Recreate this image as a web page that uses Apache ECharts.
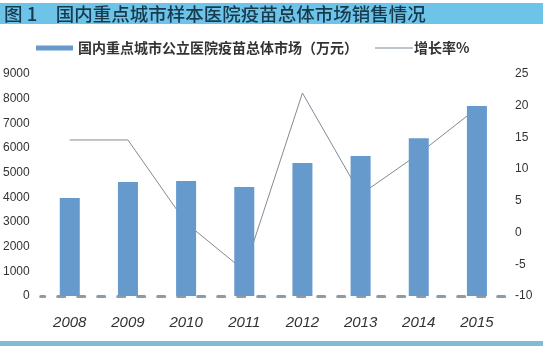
<!DOCTYPE html>
<html>
<head>
<meta charset="utf-8">
<script src="https://cdn.jsdelivr.net/npm/echarts@6/dist/echarts.min.js"></script>
<style>
html,body{margin:0;padding:0;background:#fff;}
#chart{width:550px;height:357px;}
</style>
</head>
<body>
<div id="chart"></div>
<script>
const categories = ['2008', '2009', '2010', '2011', '2012', '2013', '2014', '2015'];
const marketValues = [3970, 4620, 4660, 4420, 5390, 5680, 6400, 7700];
const growthRates = [14.6, 14.6, 1.5, -6.0, 22.0, 6.0, 12.4, 19.6];
const barName = '国内重点城市公立医院疫苗总体市场（万元）';
const lineName = '增长率%';
const titleText = '图 1　国内重点城市样本医院疫苗总体市场销售情况';

const chart = echarts.init(document.getElementById('chart'));
const narrow = "'Liberation Sans Narrow', 'Liberation Sans', Arial, sans-serif";
const cjk = "'Noto Sans CJK SC', sans-serif";

chart.setOption({
  backgroundColor: '#ffffff',
  animation: false,
  graphic: [
    { type: 'rect', left: 0, top: 3, shape: { width: 543, height: 21 }, style: { fill: '#6dc3e8' }, z: -1 },
    { type: 'rect', left: 0, top: 341, shape: { width: 543, height: 5 }, style: { fill: '#7dbcd3' }, z: -1 }
  ],
  title: {
    text: titleText,
    left: 4,
    top: 3,
    padding: 0,
    textStyle: { fontFamily: cjk, fontSize: 18.5, fontWeight: 500, color: '#173a4c', lineHeight: 21 }
  },
  legend: [
    {
      data: [{ name: barName, icon: 'rect' }],
      left: 36, top: 41, padding: 0,
      itemWidth: 37, itemHeight: 5,
      textStyle: { fontFamily: cjk, fontSize: 14, fontWeight: 'bold', color: '#333' }
    },
    {
      data: [{ name: lineName, icon: 'path://M0,0 L38,0 L38,1 L0,1 Z' }],
      left: 375, top: 41, padding: 0,
      itemWidth: 38, itemHeight: 1,
      textStyle: { fontFamily: cjk, fontSize: 14, fontWeight: 'bold', color: '#333', padding: [0, 0, 0, -4] }
    }
  ],
  grid: { left: 38, right: 44, top: 74, bottom: 61, containLabel: false },
  xAxis: {
    type: 'category',
    data: categories,
    axisLine: { lineStyle: { color: '#8c9aa5', width: 3, type: [7, 13], dashOffset: 3 } },
    axisTick: { show: false },
    axisLabel: { fontFamily: narrow, fontStyle: 'italic', fontSize: 15, color: '#333', margin: 19 }
  },
  yAxis: [
    {
      type: 'value', min: 0, max: 9000, interval: 1000,
      axisLine: { show: false }, axisTick: { show: false }, splitLine: { show: false },
      axisLabel: { fontFamily: narrow, fontSize: 12, color: '#333', margin: 11, formatter: v => String(v) }
    },
    {
      type: 'value', min: -10, max: 25, interval: 5,
      axisLine: { show: false }, axisTick: { show: false }, splitLine: { show: false },
      axisLabel: { fontFamily: narrow, fontSize: 12, color: '#333', margin: 9 }
    }
  ],
  series: [
    {
      name: barName, type: 'bar', data: marketValues, yAxisIndex: 0,
      barWidth: 20, z: 3,
      itemStyle: { color: '#6699cc' }
    },
    {
      name: lineName, type: 'line', data: growthRates, yAxisIndex: 1,
      symbol: 'none', z: 1,
      lineStyle: { color: '#7f8c96', width: 1 },
      itemStyle: { color: '#7f8c96' }
    }
  ]
});
</script>
</body>
</html>
